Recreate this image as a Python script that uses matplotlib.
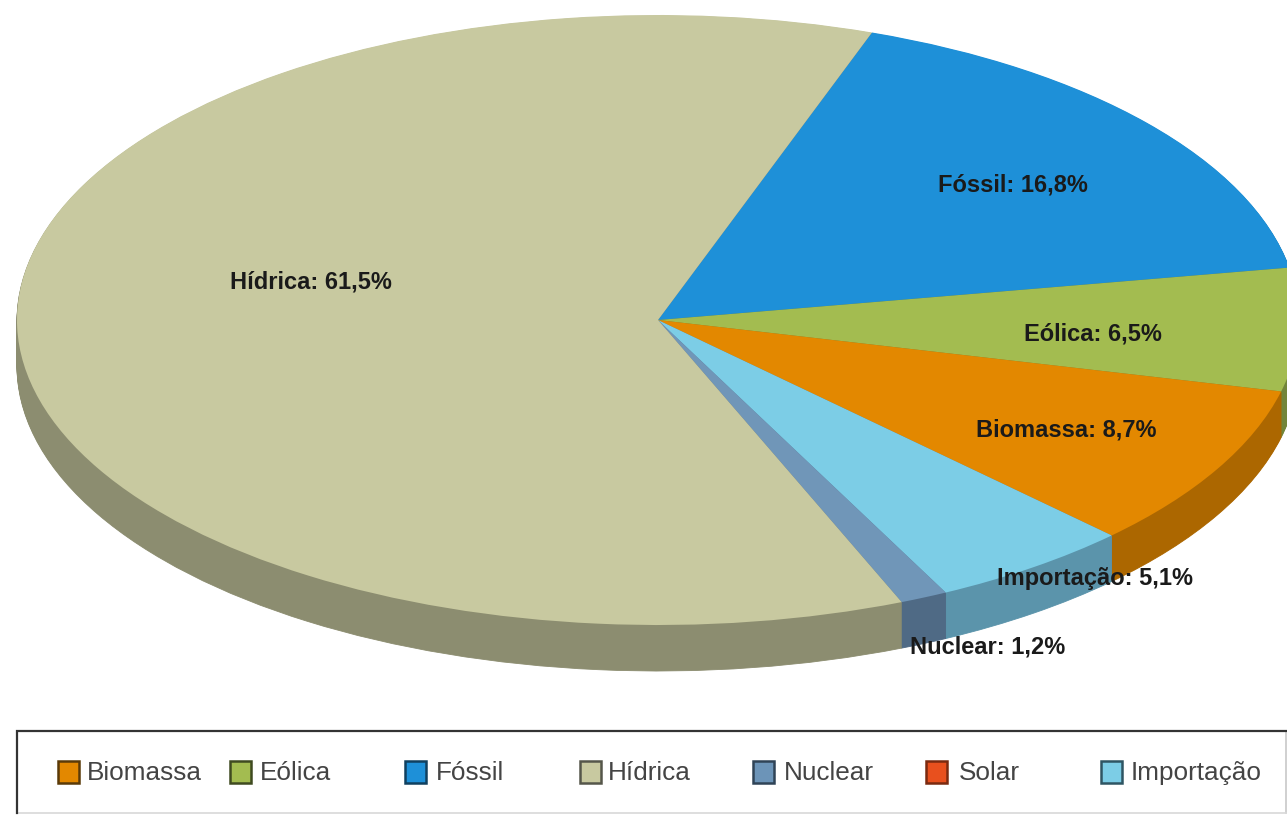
import matplotlib
matplotlib.use("Agg")
import matplotlib.pyplot as plt
from matplotlib.patches import Rectangle

W, H = 1287, 815
plt.rcParams['font.family'] = ['Liberation Sans', 'DejaVu Sans']

# data
slice_names = ["Fóssil", "Eólica", "Biomassa", "Solar", "Importação", "Nuclear", "Hídrica"]
slice_values = [16.8, 6.5, 8.7, 0.0, 5.1, 1.2, 61.5]
top_colors = ["#1E90D8", "#A3BC50", "#E38800", "#E8501E", "#7CCDE6", "#7096B8", "#C8C9A0"]
side_colors = ["#14679C", "#72853A", "#AC6700", "#A83A15", "#5B94AB", "#4F6A85", "#8C8D70"]

legend_names = ["Biomassa", "Eólica", "Fóssil", "Hídrica", "Nuclear", "Solar", "Importação"]
legend_colors = ["#E38800", "#A3BC50", "#1E90D8", "#C8C9A0", "#6C94B8", "#E8501E", "#7CCDE6"]
legend_edges = ["#5A3A08", "#3F4A20", "#10405F", "#55564A", "#2F4356", "#7A2A10", "#2E5563"]
legend_swatch_x = [58, 230, 405, 580, 753, 926, 1101]
legend_text_x = [87, 260, 436, 608, 784, 959, 1131]

label_pos = {"Hídrica": (311, 282), "Fóssil": (1013, 185), "Eólica": (1093, 334),
             "Biomassa": (1066, 430), "Importação": (1095, 579), "Nuclear": (988, 647)}

CX, CY, RX, RY, DEPTH = 658, 320, 641, 305, 46
START_ANGLE = 70.5

fig = plt.figure(figsize=(W / 100, H / 100), dpi=100, facecolor="white")
ax = fig.add_axes([0, 0, 1, 1])

# Extruded side: stacked pies from the deepest layer upward
for d in range(DEPTH, 0, -1):
    wedges, _ = ax.pie(slice_values, colors=side_colors, startangle=START_ANGLE, counterclock=False,
                       center=(0, -d / RY), radius=1)
    for w, c in zip(wedges, side_colors):
        w.set_edgecolor(c)
        w.set_linewidth(0.6)
ax.pie(slice_values, colors=top_colors, startangle=START_ANGLE, counterclock=False,
       center=(0, 0), radius=1, wedgeprops=dict(linewidth=0))
ax.set_aspect("auto")
ax.set_xlim(-CX / RX, (W - CX) / RX)
ax.set_ylim((CY - H) / RY, CY / RY)
ax.axis("off")

# Overlay in pixel coordinates for annotations and legend
px = fig.add_axes([0, 0, 1, 1], facecolor="none")
px.set_xlim(0, W)
px.set_ylim(H, 0)
px.axis("off")

for name, val in zip(slice_names, slice_values):
    if name in label_pos:
        x, y = label_pos[name]
        px.text(x, y, f"{name}: {val}%".replace(".", ","), ha="center", va="center",
                fontsize=17, fontweight="bold", color="#1A1A1A")

px.plot([1286, 1286], [731, 813], color="#C8C8C8", lw=1.2, clip_on=False)
px.plot([17, 1286], [813, 813], color="#D8D8D8", lw=1.2)
px.plot([17, 17, 1286], [813, 731, 731], color="#333333", lw=1.6, solid_joinstyle="miter")

for name, col, ec, sx, tx in zip(legend_names, legend_colors, legend_edges,
                                 legend_swatch_x, legend_text_x):
    px.add_patch(Rectangle((sx, 761), 21, 22, facecolor=col, edgecolor=ec, linewidth=1.8))
    px.text(tx, 773, name, ha="left", va="center", fontsize=18.8, color="#444444")

fig.savefig("out.png", dpi=100)
